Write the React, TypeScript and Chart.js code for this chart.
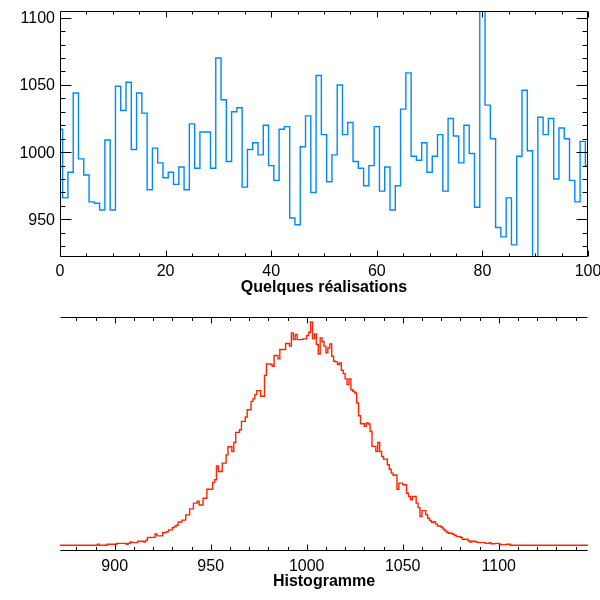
import React, { useEffect, useRef } from "react";
import { Chart, registerables } from "chart.js";

Chart.register(...registerables);

// ---------- Top panel: "Quelques réalisations" (one value per realisation index 0..100)
const realisations: number[] = [
  1017, 966, 985, 1044, 995, 983, 963, 962, 957, 1009,
  957, 1049, 1031, 1052, 1002, 1044, 1029, 972, 1003, 992,
  981, 985, 976, 989, 972, 1021, 988, 1015, 1015, 988,
  1070, 1039, 993, 1030, 1033, 974, 1002, 1007, 998, 1020,
  990, 979, 1017, 1019, 951, 946, 1004, 1027, 970, 1057,
  1013, 978, 998, 1050, 1013, 1022, 993, 988, 975, 990,
  1019, 971, 989, 957, 975, 1032, 1059, 997, 994, 1007,
  985, 997, 1013, 971, 1025, 1012, 992, 1020, 999, 959,
  1105, 1035, 1010, 944, 937, 966, 931, 997, 1046, 1001,
  922, 1026, 1013, 1025, 980, 1018, 1010, 979, 963, 1008,
  990,
];
const topXTicks = [0, 20, 40, 60, 80, 100];
const topYTicks = [950, 1000, 1050, 1100];
const topXTitle = "Quelques réalisations";

// ---------- Bottom panel: "Histogramme" (bins of width 1 starting at histStart)
const histStart = 871;
const histCounts: number[] = [
  0, 0, 0, 0, 0, 0, 0, 0, 0, 0, // 871-880
  0, 0, 0, 0, 0, 0, 0, 0, 0, 0, // 881-890
  6, 0, 0, 0, 0, 6, 6, 6, 6, 6, // 891-900
  11, 11, 11, 11, 11, 6, 11, 19, 15, 15, // 901-910
  15, 23, 23, 23, 19, 28, 44, 44, 45, 45, // 911-920
  64, 53, 53, 53, 72, 72, 77, 87, 87, 100, // 921-930
  106, 113, 132, 132, 142, 142, 172, 172, 206, 206, // 931-940
  238, 238, 249, 228, 228, 266, 266, 317, 317, 317, // 941-950
  355, 370, 449, 417, 417, 464, 464, 511, 557, 557, // 951-960
  530, 581, 638, 638, 653, 700, 700, 725, 766, 766, // 961-970
  813, 827, 851, 874, 874, 842, 842, 960, 1025, 1025, // 971-980
  1021, 1011, 1072, 1072, 1053, 1106, 1106, 1106, 1140, 1140, // 981-990
  1125, 1200, 1162, 1191, 1162, 1162, 1162, 1166, 1166, 1185, // 991-1000
  1204, 1262, 1166, 1194, 1134, 1081, 1172, 1150, 1125, 1087, // 1001-1010
  1115, 1138, 1068, 1040, 1036, 1021, 1030, 989, 970, 940, // 1011-1020
  908, 940, 879, 870, 860, 804, 732, 687, 687, 672, // 1021-1030
  691, 685, 643, 559, 559, 530, 581, 530, 502, 487, // 1031-1040
  487, 455, 430, 408, 396, 398, 317, 351, 351, 342, // 1041-1050
  342, 294, 276, 257, 276, 276, 238, 213, 162, 196, // 1051-1060
  196, 172, 153, 140, 128, 134, 121, 109, 109, 102, // 1061-1070
  91, 81, 72, 68, 68, 62, 55, 49, 49, 45, // 1071-1080
  34, 34, 34, 26, 19, 23, 23, 19, 15, 15, // 1081-1090
  15, 15, 11, 11, 15, 9, 9, 11, 11, 8, // 1091-1100
  4, 4, 4, 6, 6, 0, 0, 0, 0, 0, // 1101-1110
  0, 0, 0, 0, 0, 0, 0, 0, 0, 0, // 1111-1120
  0, 0, 0, 0, 0, 0, 0, 0, 0, 0, // 1121-1130
  0, 0, 0, 0, 0, 0, 0, 0, 0, 0, // 1131-1140
  0, 0, 0, 0, 0, 0, // 1141-1146
];
const histXTicks = [900, 950, 1000, 1050, 1100];
const histXTitle = "Histogramme";

const FONT = '"Liberation Sans", Arial, Helvetica, sans-serif';

type AxisSpec = {
  xMajor: number[];
  xMinorStep: number;
  xMajorLen: number;
  xMinorLen: number;
  showY: boolean;
  yMajor?: number[];
  yMinorStep?: number;
  yMajorLen?: number;
  yMinorLen?: number;
  labelOffset: number;
  title: string;
  titleY: number;
};

function makeAxesPlugin(spec: AxisSpec) {
  return {
    id: "idlAxes",
    afterDraw(chart: any) {
      const ctx: CanvasRenderingContext2D = chart.ctx;
      const a = chart.chartArea;
      const xs = chart.scales.x;
      const ys = chart.scales.y;
      const L = Math.round(a.left) + 0.5;
      const R = Math.round(a.right) - 0.5;
      const T = Math.round(a.top) + 0.5;
      const B = Math.round(a.bottom) - 0.5;
      ctx.save();
      ctx.strokeStyle = "#000";
      ctx.lineWidth = 1;
      ctx.beginPath();
      ctx.moveTo(L, T);
      ctx.lineTo(R, T);
      ctx.moveTo(L, B);
      ctx.lineTo(R, B);
      if (spec.showY) {
        ctx.moveTo(L, T);
        ctx.lineTo(L, B);
        ctx.moveTo(R, T);
        ctx.lineTo(R, B);
      }
      const isMajor = (arr: number[], v: number) => arr.some((m) => Math.abs(m - v) < 1e-6);
      for (let k = Math.ceil(xs.min / spec.xMinorStep); k * spec.xMinorStep <= xs.max + 1e-9; k++) {
        const v = k * spec.xMinorStep;
        const len = isMajor(spec.xMajor, v) ? spec.xMajorLen : spec.xMinorLen;
        const p = Math.round(xs.getPixelForValue(v)) + 0.5;
        ctx.moveTo(p, B);
        ctx.lineTo(p, B - len);
        ctx.moveTo(p, T);
        ctx.lineTo(p, T + len);
      }
      if (spec.showY && spec.yMajor && spec.yMinorStep) {
        for (let k = Math.ceil(ys.min / spec.yMinorStep); k * spec.yMinorStep <= ys.max + 1e-9; k++) {
          const v = k * spec.yMinorStep;
          const len = isMajor(spec.yMajor, v) ? spec.yMajorLen! : spec.yMinorLen!;
          const p = Math.round(ys.getPixelForValue(v)) + 0.5;
          ctx.moveTo(L, p);
          ctx.lineTo(L + len, p);
          ctx.moveTo(R, p);
          ctx.lineTo(R - len, p);
        }
      }
      ctx.stroke();

      ctx.fillStyle = "#000";
      ctx.font = `16px ${FONT}`;
      ctx.textAlign = "center";
      ctx.textBaseline = "alphabetic";
      spec.xMajor.forEach((v) => {
        ctx.fillText(String(v), xs.getPixelForValue(v), a.bottom + spec.labelOffset);
      });
      if (spec.showY && spec.yMajor) {
        ctx.textAlign = "right";
        spec.yMajor.forEach((v) => {
          ctx.fillText(String(v), a.left - 5, ys.getPixelForValue(v) + 5.5);
        });
      }
      ctx.textAlign = "center";
      ctx.font = `bold 16px ${FONT}`;
      ctx.fillText(spec.title, (a.left + a.right) / 2, spec.titleY);
      ctx.restore();
    },
  };
}

export default function App() {
  const topRef = useRef<HTMLCanvasElement | null>(null);
  const botRef = useRef<HTMLCanvasElement | null>(null);

  useEffect(() => {
    if (!topRef.current || !botRef.current) return;

    const topMin = Math.min(...realisations);
    const topMax = Math.max(...realisations);

    const top = new Chart(topRef.current, {
      type: "line",
      data: {
        datasets: [
          {
            data: realisations.map((v, i) => ({ x: i, y: v })),
            borderColor: "rgb(0,136,255)",
            borderWidth: 1.4,
            pointRadius: 0,
            stepped: "middle",
            fill: false,
          },
        ],
      },
      options: {
        responsive: false,
        animation: false,
        events: [],
        layout: { padding: { left: 60, right: 12, top: 11, bottom: 43 } },
        plugins: { legend: { display: false }, tooltip: { enabled: false }, title: { display: false } },
        scales: {
          x: { type: "linear", min: 0, max: 100, display: false },
          y: { type: "linear", min: topMin, max: topMax, display: false },
        },
      },
      plugins: [
        makeAxesPlugin({
          xMajor: topXTicks,
          xMinorStep: 5,
          xMajorLen: 6,
          xMinorLen: 3,
          showY: true,
          yMajor: topYTicks,
          yMinorStep: 10,
          yMajorLen: 11,
          yMinorLen: 5,
          labelOffset: 19,
          title: topXTitle,
          titleY: 292,
        }),
      ],
    } as any);

    const histMax = Math.max(...histCounts);
    const bot = new Chart(botRef.current, {
      type: "line",
      data: {
        datasets: [
          {
            data: histCounts.map((c, i) => ({ x: histStart + i + 0.5, y: c })),
            borderColor: "rgb(255,36,0)",
            borderWidth: 1.4,
            pointRadius: 0,
            stepped: "middle",
            fill: false,
          },
        ],
      },
      options: {
        responsive: false,
        animation: false,
        events: [],
        layout: { padding: { left: 60, right: 12, top: 17, bottom: 49 } },
        plugins: { legend: { display: false }, tooltip: { enabled: false }, title: { display: false } },
        scales: {
          x: { type: "linear", min: histStart + 0.5, max: histStart + histCounts.length - 0.5, display: false },
          y: { type: "linear", min: -histMax * 0.0255, max: histMax * 1.022, display: false },
        },
      },
      plugins: [
        makeAxesPlugin({
          xMajor: histXTicks,
          xMinorStep: 10,
          xMajorLen: 6,
          xMinorLen: 3.5,
          showY: false,
          labelOffset: 20,
          title: histXTitle,
          titleY: 286,
        }),
      ],
    } as any);

    return () => {
      top.destroy();
      bot.destroy();
    };
  }, []);

  return (
    <div style={{ position: "absolute", left: 0, top: 0, width: 600, height: 600, background: "#fff" }}>
      <canvas ref={topRef} width={600} height={300} style={{ position: "absolute", left: 0, top: 0 }} />
      <canvas ref={botRef} width={600} height={300} style={{ position: "absolute", left: 0, top: 300 }} />
    </div>
  );
}
